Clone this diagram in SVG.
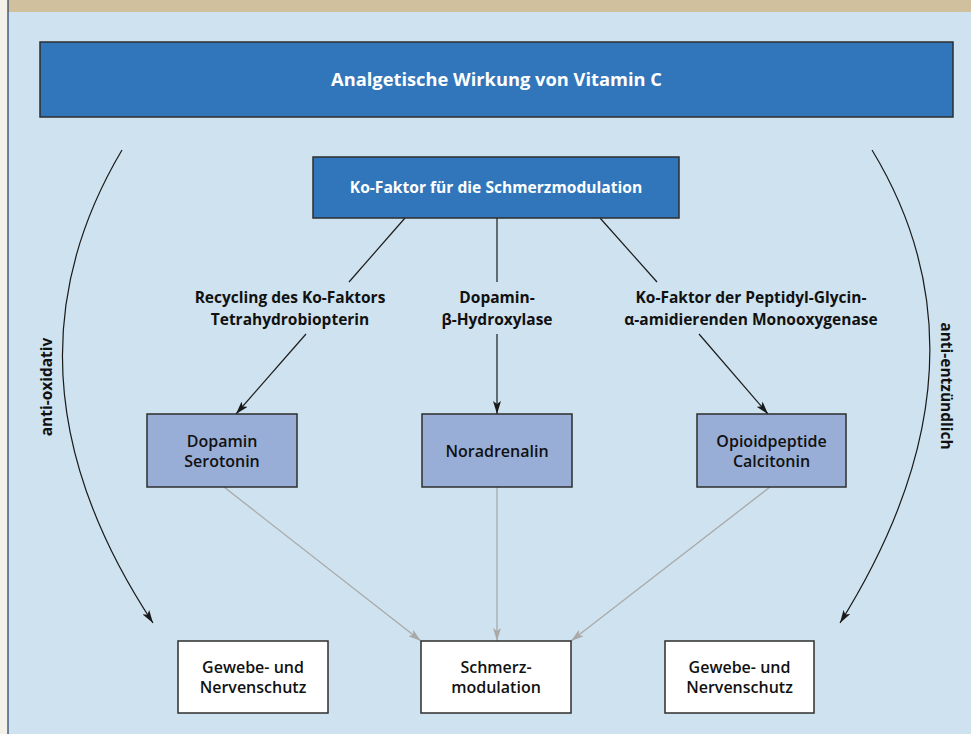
<svg xmlns="http://www.w3.org/2000/svg" width="971" height="734" viewBox="0 0 971 734">
<defs>
<style>
.box{stroke:#2e2e2e;stroke-width:1.5}
.dark{fill:#3176ba}
.mid{fill:#98aed7}
.white{fill:#ffffff}
.t{font-family:"Open Sans","Liberation Sans",sans-serif;text-anchor:middle}
.tw{fill:#ffffff;font-weight:700}
.lb{fill:#111111;font-weight:700;font-size:15.5px}
.bx{fill:#111111;font-weight:600;font-size:16px}
.blk{stroke:#1a1a1a;stroke-width:1.2;fill:none}
.gry{stroke:#a9a9a9;stroke-width:1.3;fill:none}
</style>
<marker id="ab" viewBox="0 0 13 8" refX="13" refY="4" markerWidth="13" markerHeight="8" markerUnits="userSpaceOnUse" orient="auto">
<path d="M0,0 L13,4 L0,8 L3,4 z" fill="#1a1a1a"/>
</marker>
<marker id="ag" viewBox="0 0 13 8" refX="13" refY="4" markerWidth="13" markerHeight="8" markerUnits="userSpaceOnUse" orient="auto">
<path d="M0,0 L13,4 L0,8 L3,4 z" fill="#a9a9a9"/>
</marker>
</defs>
<rect x="0" y="0" width="971" height="734" fill="#f4f1ea"/>
<rect x="8" y="0" width="963" height="734" fill="#cfe2ef"/>
<rect x="8" y="0" width="963" height="12" fill="#d0c09e"/>
<line x1="8" y1="0" x2="8" y2="734" stroke="#1f3a60" stroke-width="1.2"/>

<g id="connectors">
<line class="blk" x1="405" y1="218" x2="349" y2="282"/>
<line class="blk" x1="497" y1="218" x2="497" y2="282"/>
<line class="blk" x1="600" y1="218" x2="657" y2="282"/>
<line class="blk" x1="306" y1="334" x2="236" y2="414" marker-end="url(#ab)"/>
<line class="blk" x1="497" y1="334" x2="497" y2="414" marker-end="url(#ab)"/>
<line class="blk" x1="699" y1="334" x2="768" y2="414" marker-end="url(#ab)"/>
<line class="gry" x1="224" y1="487" x2="421" y2="641" marker-end="url(#ag)"/>
<line class="gry" x1="497" y1="487" x2="497" y2="641" marker-end="url(#ag)"/>
<line class="gry" x1="770" y1="487" x2="571" y2="641" marker-end="url(#ag)"/>
<path class="blk" d="M122,150 Q-11,374 153,623" marker-end="url(#ab)"/>
<path class="blk" d="M872,150 Q1002,364 840,623" marker-end="url(#ab)"/>
</g>

<g id="title">
<rect class="box dark" x="40" y="42" width="913" height="75"/>
<text class="t tw" x="496.5" y="86" font-size="18.3">Analgetische Wirkung von Vitamin C</text>
</g>
<g id="kofaktor">
<rect class="box dark" x="313" y="157" width="366" height="61"/>
<text class="t tw" x="496" y="193" font-size="15.6">Ko-Faktor für die Schmerzmodulation</text>
</g>
<g id="label-recycling">
<text class="t lb" x="290" y="303">Recycling des Ko-Faktors</text>
<text class="t lb" x="290" y="325">Tetrahydrobiopterin</text>
</g>
<g id="label-dbh">
<text class="t lb" x="497" y="303">Dopamin-</text>
<text class="t lb" x="497" y="325">β-Hydroxylase</text>
</g>
<g id="label-pam">
<text class="t lb" x="751" y="303">Ko-Faktor der Peptidyl-Glycin-</text>
<text class="t lb" x="751" y="325">α-amidierenden Monooxygenase</text>
</g>
<g id="dopamin">
<rect class="box mid" x="147" y="414" width="150" height="73"/>
<text class="t bx" x="222" y="447">Dopamin</text>
<text class="t bx" x="222" y="467">Serotonin</text>
</g>
<g id="noradrenalin">
<rect class="box mid" x="422" y="414" width="150" height="73"/>
<text class="t bx" x="497" y="457">Noradrenalin</text>
</g>
<g id="opioid">
<rect class="box mid" x="697" y="414" width="149" height="73"/>
<text class="t bx" x="771.5" y="447">Opioidpeptide</text>
<text class="t bx" x="771.5" y="467">Calcitonin</text>
</g>
<g id="schutz-links">
<rect class="box white" x="178" y="641" width="150" height="72"/>
<text class="t bx" x="253" y="673">Gewebe- und</text>
<text class="t bx" x="253" y="693">Nervenschutz</text>
</g>
<g id="schmerzmodulation">
<rect class="box white" x="421" y="641" width="150" height="72"/>
<text class="t bx" x="496" y="673">Schmerz-</text>
<text class="t bx" x="496" y="693">modulation</text>
</g>
<g id="schutz-rechts">
<rect class="box white" x="665" y="641" width="149" height="72"/>
<text class="t bx" x="739.5" y="673">Gewebe- und</text>
<text class="t bx" x="739.5" y="693">Nervenschutz</text>
</g>
<g id="label-antioxidativ">
<text class="t lb" transform="translate(52,387) rotate(-90)" x="0" y="0" font-size="16">anti-oxidativ</text>
</g>
<g id="label-antientzuendlich">
<text class="t lb" transform="translate(941,386) rotate(90)" x="0" y="0" font-size="16">anti-entzündlich</text>
</g>
</svg>
